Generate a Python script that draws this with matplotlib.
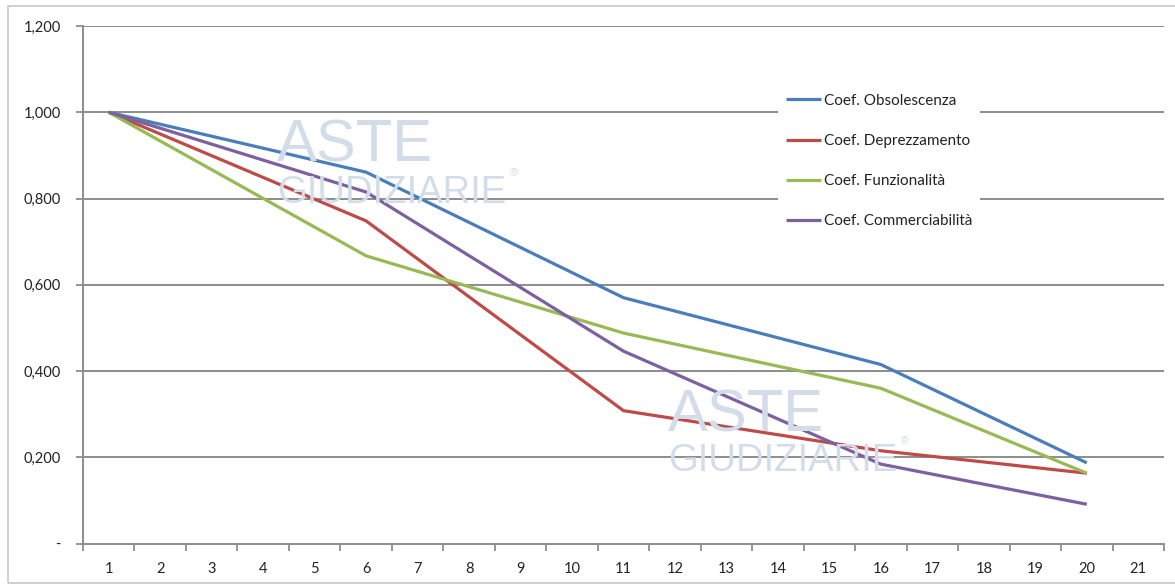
import matplotlib
matplotlib.use("Agg")
import matplotlib.pyplot as plt
from matplotlib.patches import Rectangle

# ---- data ----
years = [1, 6, 11, 16, 20]
obsolescenza = [1.000, 0.861, 0.570, 0.415, 0.187]
deprezzamento = [1.000, 0.748, 0.308, 0.215, 0.163]
funzionalita = [1.000, 0.667, 0.488, 0.360, 0.163]
commerciabilita = [1.000, 0.815, 0.446, 0.184, 0.091]
series_names = ["Coef. Obsolescenza", "Coef. Deprezzamento",
                "Coef. Funzionalità", "Coef. Commerciabilità"]
series_colors = ["#4A7EBB", "#BE4B48", "#98B954", "#7D60A0"]
x_categories = list(range(1, 22))
y_ticks = [0.0, 0.2, 0.4, 0.6, 0.8, 1.0, 1.2]
y_tick_labels = ["-", "0,200", "0,400", "0,600", "0,800", "1,000", "1,200"]

plt.rcParams['font.family'] = ['Lato', 'DejaVu Sans']

W, H = 1175, 587
fig = plt.figure(figsize=(W / 100, H / 100), dpi=100)
fig.patch.set_facecolor("white")

# outer frame
fig.patches.append(Rectangle((8 / W, 1 - 583 / H), (W + 10) / W, (583 - 6) / H,
                             transform=fig.transFigure, fill=False,
                             edgecolor="#c8c8c8", linewidth=1.2, zorder=0))

left, right = 83 / W, 1164 / W
bottom, top = 1 - 543.5 / H, 1 - 26 / H
ax = fig.add_axes([left, bottom, right - left, top - bottom])
ax.set_facecolor("none")

# watermarks
wm_color = "#d3dde9"
wm_family = ['Liberation Sans', 'DejaVu Sans']
for (xa, yb1, yb2) in [(277, 162, 203), (668, 432, 471)]:
    fig.text(xa / W, 1 - yb1 / H, "ASTE", fontsize=43, color=wm_color,
             family=wm_family, ha="left", va="baseline", zorder=0)
    fig.text(xa / W, 1 - yb2 / H, "GIUDIZIARIE", fontsize=27.5, color=wm_color,
             family=wm_family, ha="left", va="baseline", zorder=0)
    fig.text((xa + 233) / W, 1 - (yb2 - 27) / H, "®", fontsize=8, color=wm_color,
             family=wm_family, ha="left", va="baseline", zorder=0)

all_series = [obsolescenza, deprezzamento, funzionalita, commerciabilita]
for vals, name, col in zip(all_series, series_names, series_colors):
    ax.plot(years, vals, color=col, linewidth=2.3, label=name, zorder=3,
            solid_joinstyle="round", solid_capstyle="butt")

ax.set_xlim(0.5, 21.5)
ax.set_ylim(0, 1.2)

grid_color = "#8c8c8c"
for yt in y_ticks[1:]:
    ax.axhline(yt, color=grid_color, linewidth=1.4, zorder=1)

ax.set_yticks(y_ticks)
ax.set_yticklabels(y_tick_labels)
ax.set_xticks(x_categories)
ax.set_xticklabels([str(c) for c in x_categories])
ax.set_xticks([c + 0.5 for c in [0] + x_categories], minor=True)

ax.tick_params(axis="x", which="major", length=0, pad=13, labelsize=10.5,
               labelcolor="#222222")
ax.tick_params(axis="x", which="minor", length=5, width=1.3, color=grid_color,
               direction="out")
ax.tick_params(axis="y", which="major", length=5, width=1.3, color=grid_color,
               direction="out", pad=11, labelsize=10.5, labelcolor="#222222")

for s in ["top", "right"]:
    ax.spines[s].set_visible(False)
for s in ["left", "bottom"]:
    ax.spines[s].set_color(grid_color)
    ax.spines[s].set_linewidth(1.4)

leg = ax.legend(loc="upper left", bbox_to_anchor=(778 / W, 1 - 86 / H),
                bbox_transform=fig.transFigure, frameon=True, fancybox=False,
                edgecolor="none", facecolor="white", framealpha=1.0,
                fontsize=11, handlelength=2.3, handletextpad=0.2,
                labelspacing=1.72, borderpad=0.5, borderaxespad=0)
leg.set_zorder(5)
for line in leg.get_lines():
    line.set_linewidth(2.3)
for t in leg.get_texts():
    t.set_color("#222222")

fig.savefig("out.png", dpi=100)
